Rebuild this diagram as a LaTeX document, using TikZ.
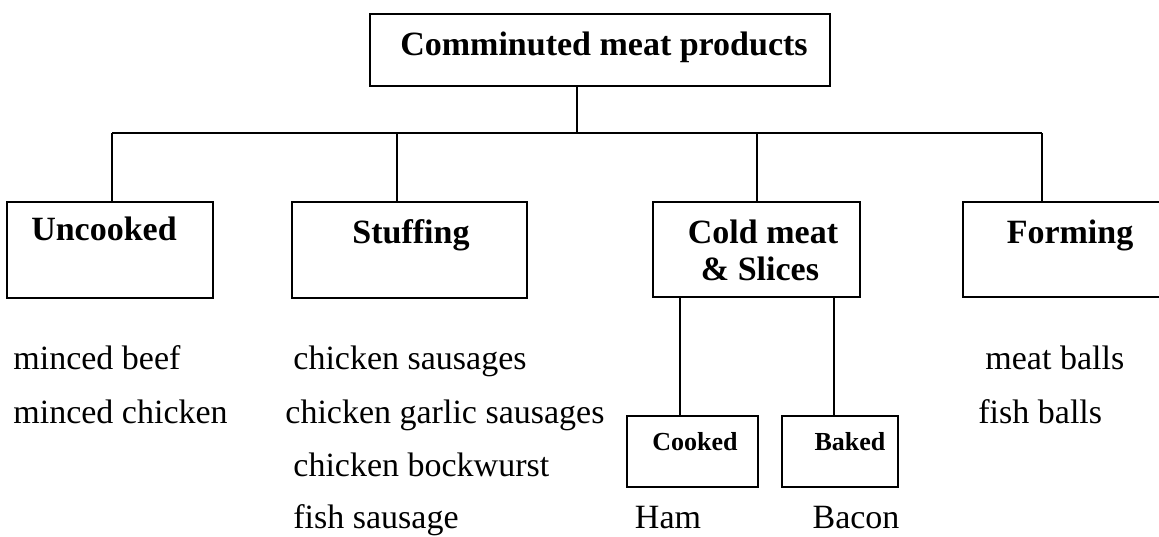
\documentclass[tikz,border=0pt]{standalone}
\usepackage{fontspec}
\setmainfont{Liberation Serif}
\begin{document}
\begin{tikzpicture}[x=0.5pt,y=-0.5pt,
  box/.style={draw=black,line width=1.3pt,rectangle,inner sep=0pt,fill=white},
  conn/.style={draw=black,line width=1pt},
  head/.style={anchor=base,inner sep=0pt,font=\fontsize{17}{20}\selectfont\bfseries},
  small/.style={anchor=base,inner sep=0pt,font=\fontsize{13}{15}\selectfont\bfseries},
  item/.style={anchor=base west,inner sep=0pt,font=\fontsize{17}{20}\selectfont},
  itemc/.style={anchor=base,inner sep=0pt,font=\fontsize{17}{20}\selectfont}]
\useasboundingbox (0,0) rectangle (1159,536);
\clip (0,0) rectangle (1159,536);

% frames
\node[box,minimum width=230pt,minimum height=36pt] (top) at (600,50) {};
\node[box,minimum width=103pt,minimum height=48pt] (unc) at (110,250) {};
\node[box,minimum width=117.5pt,minimum height=48pt] (stuf) at (409.5,250) {};
\node[box,minimum width=103.5pt,minimum height=47.5pt] (cold) at (756.5,249.5) {};
\node[box,minimum width=107pt,minimum height=47.5pt] (form) at (1070,249.5) {};
\node[box,minimum width=65.5pt,minimum height=35.5pt] (cook) at (692.5,451.5) {};
\node[box,minimum width=58pt,minimum height=35.5pt] (bake) at (840,451.5) {};

% frame titles
\node[head] (topT) at (604,55) {Comminuted meat products};
\node[head] (uncT) at (104,240) {Uncooked};
\node[head] (stufT) at (411,243) {Stuffing};
\node[head] (coldT1) at (763,243) {Cold meat};
\node[head] (coldT2) at (760,280) {\& Slices};
\node[head] (formT) at (1070,243) {Forming};
\node[small] (cookT) at (695,450) {Cooked};
\node[small] (bakeT) at (850,450) {Baked};

% tree connectors
\coordinate (stem) at (577,133);
\coordinate (bU) at (112,133);
\coordinate (bS) at (397,133);
\coordinate (bC) at (757,133);
\coordinate (bF) at (1042,133);
\coordinate (kC) at (680,300);
\coordinate (kB) at (834,300);
\draw[conn] (stem |- top.south) -- (stem);
\draw[conn] (bU) -- (bF);
\draw[conn] (bU) -- (bU |- unc.north);
\draw[conn] (bS) -- (bS |- stuf.north);
\draw[conn] (bC) -- (bC |- cold.north);
\draw[conn] (bF) -- (bF |- form.north);
\draw[conn] (kC |- cold.south) -- (kC |- cook.north);
\draw[conn] (kB |- cold.south) -- (kB |- bake.north);

% product lists
\node[item] (i1) at (13,369) {minced beef};
\node[item] (i2) at (13,423) {minced chicken};
\node[item] (s1) at (293,369) {chicken sausages};
\node[item] (s2) at (285,423) {chicken garlic sausages};
\node[item] (s3) at (293,476) {chicken bockwurst};
\node[item] (s4) at (293,528) {fish sausage};
\node[item] (f1) at (985,369) {meat balls};
\node[item] (f2) at (978,423) {fish balls};
\node[itemc] (ham) at (668,528) {Ham};
\node[itemc] (bacon) at (856,528) {Bacon};
\end{tikzpicture}
\end{document}
